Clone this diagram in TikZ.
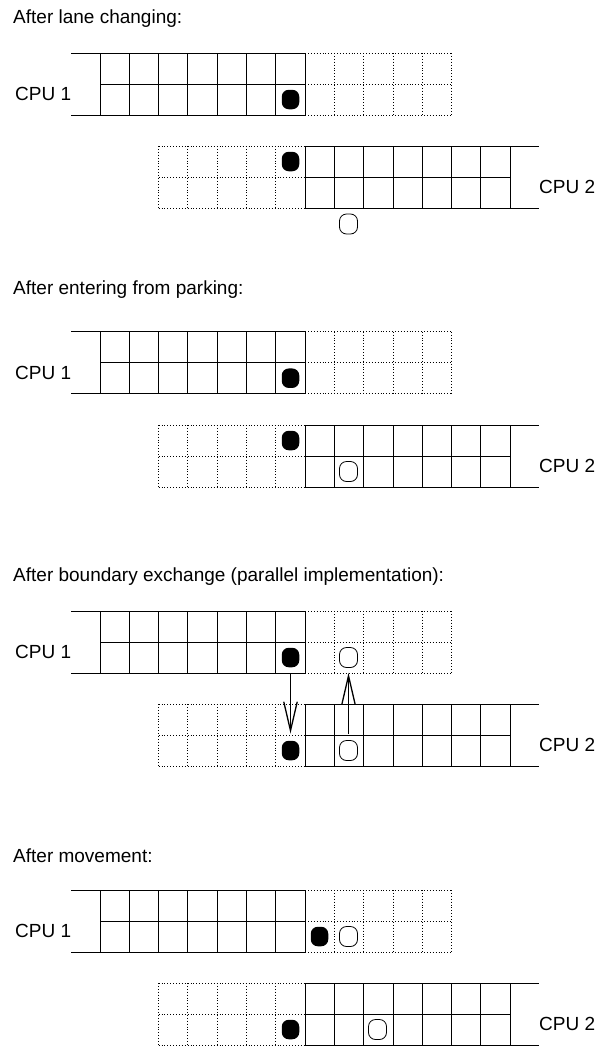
\documentclass[tikz,border=0pt]{standalone}
\usepackage{fontspec}
\setmainfont{Liberation Sans}
\usetikzlibrary{arrows.meta}

\tikzset{
  solidln/.style={line width=0.9pt, black},
  dotln/.style={line width=0.9pt, black, dash pattern=on 0.9pt off 2pt},
  bdot/.style={rectangle, fill=black, rounded corners=7pt, minimum width=17.5pt, minimum height=19.5pt, inner sep=0pt},
  wdot/.style={rectangle, draw=black, line width=0.8pt, fill=white, rounded corners=7pt, minimum width=18pt, minimum height=20pt, inner sep=0pt},
  lbl/.style={font=\fontsize{19pt}{22pt}\selectfont, inner sep=0pt, anchor=base west},
  xfer/.style={line width=1.8pt, -{Straight Barb[length=29pt,width=13.5pt,line width=1.3pt]}},
}

% lane owned by CPU 1: open on the left, ghost cells on the right
\newcommand{\laneone}[1]{%
  \pgfmathsetmacro{\ta}{#1}\pgfmathsetmacro{\tb}{#1+31}\pgfmathsetmacro{\tc}{#1+62}%
  \draw[solidln] (71,\ta) -- (305.1,\ta) (100,\tb) -- (305.1,\tb) (71,\tc) -- (305.1,\tc);
  \foreach \i in {0,...,7} \draw[solidln] ({100+\i*29.3},\ta) -- ({100+\i*29.3},\tc);
  \draw[dotln] (305.1,\ta) -- (451.6,\ta) (305.1,\tb) -- (451.6,\tb) (305.1,\tc) -- (451.6,\tc);
  \foreach \i in {1,...,5} \draw[dotln] ({305.1+\i*29.3},\ta) -- ({305.1+\i*29.3},\tc);
}

% lane owned by CPU 2: ghost cells on the left, open on the right
\newcommand{\lanetwo}[1]{%
  \pgfmathsetmacro{\ta}{#1}\pgfmathsetmacro{\tb}{#1+31}\pgfmathsetmacro{\tc}{#1+62}%
  \draw[dotln] (158.6,\ta) -- (305.1,\ta) (158.6,\tb) -- (305.1,\tb) (158.6,\tc) -- (305.1,\tc);
  \foreach \i in {0,...,4} \draw[dotln] ({158.6+\i*29.3},\ta) -- ({158.6+\i*29.3},\tc);
  \draw[solidln] (305.1,\ta) -- (539,\ta) (305.1,\tb) -- (510.2,\tb) (305.1,\tc) -- (539,\tc);
  \foreach \i in {0,...,7} \draw[solidln] ({305.1+\i*29.3},\ta) -- ({305.1+\i*29.3},\tc);
}

\begin{document}
\begin{tikzpicture}[x=1pt, y=-1pt]
\useasboundingbox (0,0) rectangle (598,1047);

% ---------- after lane changing ----------
\node[lbl] (t1) at (13,23) {After lane changing:};
\laneone{53}
\lanetwo{146}
\node[lbl] (p1a) at (15,100.4) {CPU 1};
\node[lbl] (p1b) at (539,193.4) {CPU 2};
\node[bdot] (d11) at (290.5,99.5) {};
\node[bdot] (d12) at (290.5,161.5) {};
\node[wdot] (c12) at (348.5,224) {};

% ---------- after entering from parking ----------
\node[lbl] (t2) at (13,294) {After entering from parking:};
\laneone{331.7}
\lanetwo{425}
\node[lbl] (p2a) at (15,379.1) {CPU 1};
\node[lbl] (p2b) at (539,472.4) {CPU 2};
\node[bdot] (d21) at (290.5,378.2) {};
\node[bdot] (d22) at (290.5,440.5) {};
\node[wdot] (c22) at (348.5,471.5) {};

% ---------- after boundary exchange ----------
\node[lbl] (t3) at (13,581) {After boundary exchange (parallel implementation):};
\laneone{611}
\lanetwo{704}
\node[lbl] (p3a) at (15,658.4) {CPU 1};
\node[lbl] (p3b) at (539,751.4) {CPU 2};
\node[bdot] (d31) at (290.5,657.5) {};
\node[wdot] (c31) at (348.5,657.5) {};
\node[bdot] (d32) at (290.5,750.5) {};
\node[wdot] (c32) at (348.5,750.5) {};
\draw[xfer, shorten <=6pt, shorten >=7pt] (d31.south) -- (d32.north);
\draw[xfer, shorten <=6pt, shorten >=5pt] (c32.north) -- (c31.south);

% ---------- after movement ----------
\node[lbl] (t4) at (13,862) {After movement:};
\laneone{890}
\lanetwo{983}
\node[lbl] (p4a) at (15,937.4) {CPU 1};
\node[lbl] (p4b) at (539,1030.4) {CPU 2};
\node[bdot] (d41) at (319.5,936.5) {};
\node[wdot] (c41) at (348.5,936.5) {};
\node[bdot] (d42) at (290.5,1029.5) {};
\node[wdot] (c42) at (377.5,1029.5) {};
\end{tikzpicture}
\end{document}
